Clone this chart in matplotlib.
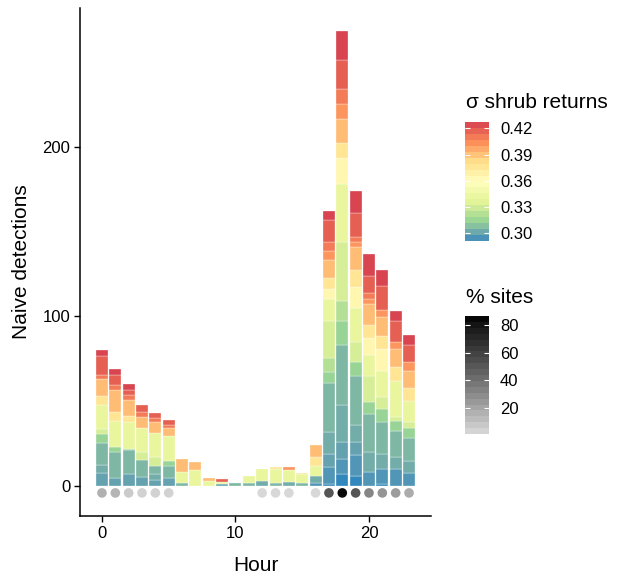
import numpy as np
import matplotlib
matplotlib.use("Agg")
import matplotlib.pyplot as plt
from matplotlib.colors import ListedColormap, Normalize, to_rgb

plt.rcParams['font.family'] = ['Liberation Sans', 'DejaVu Sans']

# ---------------- data ----------------
hours = list(range(24))
# sigma shrub returns of each site (stack order: low at bottom)
site_sigma = [0.292, 0.296, 0.300, 0.303, 0.306, 0.314, 0.322, 0.332,
              0.340, 0.366, 0.378, 0.392, 0.402, 0.410, 0.418, 0.425]
# naive detections per hour (rows) and site (columns, same order as site_sigma)
detections = [
    [0, 0, 7.5, 5, 13, 5, 0, 3, 14, 0, 5.5, 10, 0, 2.5, 11, 3.5],      # 0
    [0, 0, 5, 0, 15, 3, 0, 0, 15.5, 0, 5, 13, 0, 3, 6, 3.5],           # 1
    [0, 0, 7, 0, 14, 1, 0, 0, 15.5, 0, 4, 9, 0, 3, 3, 3.5],            # 2
    [0, 0, 5.5, 0, 10, 0, 0, 4.5, 14, 0, 0, 6.5, 0, 3, 4.5, 0],        # 3
    [0, 0, 3.5, 3.5, 5, 0, 0, 5, 14.5, 0, 0, 6, 0, 2.5, 3, 0],         # 4
    [0, 0, 5, 0, 7, 3, 0, 0, 14.5, 0, 0, 5, 0, 1.5, 3, 0],             # 5
    [0, 0, 0, 0, 2, 0, 0, 0, 6.5, 0, 0, 7.5, 0, 0, 0, 0],              # 6
    [0, 0, 0, 0, 0, 0, 0, 0, 9.5, 0, 0, 4.5, 0, 0, 0, 0],              # 7
    [0, 0, 0, 0, 0, 0, 0, 0, 3, 0, 0, 2, 0, 0, 0, 0],                  # 8
    [0, 0, 1, 0, 0, 0, 0, 0, 1.5, 0, 0, 0, 0, 0, 1.5, 0],              # 9
    [0, 0, 0, 0, 2, 0, 0, 0, 0, 0, 0, 0, 0, 0, 0, 0],                  # 10
    [0, 0, 0, 0, 2, 0, 0, 0, 4, 0, 0, 0, 0, 0, 0, 0],                  # 11
    [0, 0, 0, 3, 0, 0, 0, 0, 7, 0, 0, 0, 0, 0, 0, 0],                  # 12
    [0, 0, 0, 0, 2, 0, 0, 0, 8, 0, 1, 0, 0, 0, 0, 0],                  # 13
    [0, 0, 0, 2.5, 0, 0, 0, 0, 7, 0, 0, 0, 1.5, 0, 0, 0],              # 14
    [0, 0, 0, 0, 2, 0, 0, 0, 5, 0, 1, 0, 0, 0, 0, 0],                  # 15
    [0, 2, 0, 4, 0, 0, 0, 0, 6, 0, 5, 7, 0, 0, 0, 0],                  # 16
    [1.5, 9.5, 8, 13, 28.5, 7, 8, 21.5, 13, 6, 6.5, 10.5, 5.5, 5, 13, 5.5],  # 17
    [7, 9, 10, 22, 35, 14, 12, 35, 34, 15, 9, 14, 9, 9, 17, 17],             # 18
    [6, 12.5, 7.5, 10, 29, 8, 0, 12, 20, 12, 10, 14, 3, 3, 14, 13],          # 19
    [0, 8.5, 0, 11.5, 22.5, 7, 0, 15.5, 12, 10, 8, 12, 3, 4, 10, 13],        # 20
    [1.5, 8.5, 0, 9, 18.5, 8, 0, 7, 15.5, 12.5, 8, 11, 4, 0, 14.5, 9],       # 21
    [0, 10, 0, 7, 15.5, 6, 0, 2, 21.5, 0, 8, 11, 4, 0, 12.5, 5.5],           # 22
    [0, 8, 0, 7, 13.5, 6, 0, 3, 12.5, 0, 8, 10, 5, 0, 10, 6],                # 23
]
# percentage of sites with detections per hour (nan = none)
nan = float('nan')
pct_sites = [15.5, 14.3, 6.5, 3.7, 3.7, 3.7, nan, nan, nan, nan, nan, nan,
             1.8, 1.8, 1.8, nan, 1.8, 51, 84, 51, 31.6, 26, 23.7, 17.5]

sigma_ticks = [0.30, 0.33, 0.36, 0.39, 0.42]
sigma_tick_labels = ["0.30", "0.33", "0.36", "0.39", "0.42"]
pct_ticks = [20, 40, 60, 80]
y_ticks = [0, 100, 200]
x_ticks = [0, 10, 20]


# ---------------- colour helpers (Lab interpolation like ggplot) ----------------
M = np.array([[0.4124564, 0.3575761, 0.1804375],
              [0.2126729, 0.7151522, 0.0721750],
              [0.0193339, 0.1191920, 0.9503041]])
WP = np.array([0.95047, 1.0, 1.08883])


def rgb2lab(c):
    c = np.asarray(c, float)
    lin = np.where(c <= 0.04045, c / 12.92, ((c + 0.055) / 1.055) ** 2.4)
    xyz = lin @ M.T / WP
    f = np.where(xyz > (6 / 29) ** 3, np.cbrt(xyz), xyz / (3 * (6 / 29) ** 2) + 4 / 29)
    return np.stack([116 * f[..., 1] - 16, 500 * (f[..., 0] - f[..., 1]),
                     200 * (f[..., 1] - f[..., 2])], -1)


def lab2rgb(lab):
    L, a, b = lab[..., 0], lab[..., 1], lab[..., 2]
    fy = (L + 16) / 116
    f = np.stack([fy + a / 500, fy, fy - b / 200], -1)
    xyz = np.where(f > 6 / 29, f ** 3, 3 * (6 / 29) ** 2 * (f - 4 / 29)) * WP
    lin = xyz @ np.linalg.inv(M).T
    lin = np.clip(lin, 0, 1)
    c = np.where(lin <= 0.0031308, 12.92 * lin, 1.055 * lin ** (1 / 2.4) - 0.055)
    return np.clip(c, 0, 1)


def lab_cmap(hexes, n=256):
    labs = rgb2lab([to_rgb(h) for h in hexes])
    pos = np.linspace(0, 1, len(hexes))
    t = np.linspace(0, 1, n)
    out = np.stack([np.interp(t, pos, labs[:, i]) for i in range(3)], -1)
    return ListedColormap(lab2rgb(out))


# ---------------- style ----------------
SPECTRAL7 = ['#3288bd', '#99d594', '#e6f598', '#ffffbf', '#fee08b', '#fc8d59', '#d53e4f']
cmap_sigma = lab_cmap(SPECTRAL7)
norm_sigma = Normalize(0.2916, 0.427)
cmap_grey = lab_cmap(['#dadada', '#000000'])
norm_grey = Normalize(1.0, 86.5)
BAR_W = 0.9
DOT_Y = -4

W, H = 623, 581
fig = plt.figure(figsize=(W / 100, H / 100), dpi=100)
ax = fig.add_axes([80 / W, 1 - 516 / H, (431 - 80) / W, (516 - 8) / H])

det = np.array(detections, dtype=float)
x = np.array(hours)
bottom = np.zeros(len(hours))
for k, s in enumerate(site_sigma):
    h = det[:, k]
    m = h > 0
    ax.bar(x[m], h[m], bottom=bottom[m], width=BAR_W,
           color=cmap_sigma(norm_sigma(s)),
           edgecolor='white', linewidth=0.22, zorder=2)
    bottom += h

pct = np.array(pct_sites, dtype=float)
mm = ~np.isnan(pct)
ax.scatter(x[mm], np.full(mm.sum(), DOT_Y), c=pct[mm], cmap=cmap_grey,
           norm=norm_grey, s=48, linewidths=0, zorder=3)

# limits as ggplot-style 5% expansion
xlo, xhi = min(hours) - BAR_W / 2, max(hours) + BAR_W / 2
xs = xhi - xlo
ax.set_xlim(xlo - 0.05 * xs, xhi + 0.05 * xs)
ylo, yhi = DOT_Y, bottom.max()
ys = yhi - ylo
ax.set_ylim(ylo - 0.05 * ys, yhi + 0.05 * ys)

for sp in ['top', 'right']:
    ax.spines[sp].set_visible(False)
for sp in ['left', 'bottom']:
    ax.spines[sp].set_linewidth(1.1)
    ax.spines[sp].set_color('black')
ax.set_xticks(x_ticks)
ax.set_yticks(y_ticks)
ax.tick_params(length=4, width=1.0, labelsize=12, colors='black', pad=3)
ax.set_xlabel('Hour', fontsize=15, labelpad=11)
ax.set_ylabel('Naive detections', fontsize=15, labelpad=8)


def colorbar(axes, cmap, norm, ticks, labels):
    edges = np.linspace(norm.vmin, norm.vmax, 21)
    centers = (edges[:-1] + edges[1:]) / 2
    axes.pcolormesh([0, 1], edges, centers[:, None], cmap=cmap, norm=norm,
                    shading='flat')
    axes.set_xlim(0, 1)
    axes.set_ylim(norm.vmin, norm.vmax)
    axes.set_xticks([])
    axes.set_yticks(ticks)
    axes.set_yticklabels(labels)
    axes.yaxis.set_ticks_position('both')
    axes.tick_params(axis='y', direction='in', length=3.6, width=0.8,
                     color='white', labelleft=False, labelright=True,
                     labelsize=12, labelcolor='black', pad=8)
    for sp in axes.spines.values():
        sp.set_visible(False)


cax1 = fig.add_axes([465 / W, 1 - 240.7 / H, 24 / W, 118.4 / H])
colorbar(cax1, cmap_sigma, norm_sigma, sigma_ticks, sigma_tick_labels)
fig.text(466 / W, 1 - 108 / H, 'σ shrub returns', fontsize=15,
         ha='left', va='baseline')

cax2 = fig.add_axes([465 / W, 1 - 434 / H, 24 / W, 118 / H])
colorbar(cax2, cmap_grey, norm_grey, pct_ticks, [str(t) for t in pct_ticks])
fig.text(466 / W, 1 - 302.7 / H, '% sites', fontsize=15,
         ha='left', va='baseline')

fig.savefig('out.png', dpi=100)
